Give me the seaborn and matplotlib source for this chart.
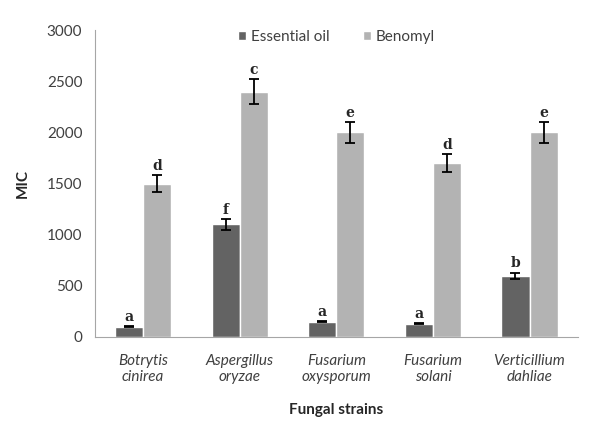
import numpy as np
import pandas as pd
import matplotlib
matplotlib.use('Agg')
import matplotlib.pyplot as plt
import seaborn as sns

# ==========================================
# Dữ liệu
# ==========================================
strains = ['Botrytis\ncinirea', 'Aspergillus\noryzae', 'Fusarium\noxysporum',
           'Fusarium\nsolani', 'Verticillium\ndahliae']
treatments = ['Essential oil', 'Benomyl']
oil_mic = [100, 1100, 150, 130, 600]
oil_err = [6, 50, 8, 6, 30]
oil_letters = ['a', 'f', 'a', 'a', 'b']
beno_mic = [1500, 2400, 2000, 1700, 2000]
beno_err = [80, 120, 100, 90, 100]
beno_letters = ['d', 'c', 'e', 'd', 'e']

df = pd.DataFrame({
    'Strain': strains * 2,
    'Treatment': [treatments[0]] * 5 + [treatments[1]] * 5,
    'MIC': oil_mic + beno_mic,
})

sns.set_style('white')
plt.rcParams['font.family'] = ['Lato', 'DejaVu Sans']

fig = plt.figure(figsize=(6.0, 4.37), dpi=100)
ax = fig.add_axes([0.158, 0.229, 0.805, 0.702])

sns.barplot(data=df, x='Strain', y='MIC', hue='Treatment',
            palette=['#636363', '#b3b3b3'], width=0.58,
            errorbar=None, ax=ax, saturation=1)

# Thanh sai số + chữ cái
errs = [oil_err, beno_err]
letters = [oil_letters, beno_letters]
vals = [oil_mic, beno_mic]
bar_groups = list(ax.containers)
for k, cont in enumerate(bar_groups):
    for i, bar in enumerate(cont):
        xc = bar.get_x() + bar.get_width() / 2
        ax.errorbar(xc, vals[k][i], yerr=errs[k][i], color='black',
                    capsize=3.5, elinewidth=1.3, capthick=1.3)
        ax.text(xc, vals[k][i] + errs[k][i] + 20, letters[k][i],
                ha='center', va='bottom', fontsize=10, fontweight='heavy',
                family='DejaVu Serif')

ax.set_ylim(0, 3000)
ax.set_yticks(range(0, 3001, 500))
ax.set_xlim(-0.5, 4.5)
for s in ['top', 'right']:
    ax.spines[s].set_visible(False)
for s in ['left', 'bottom']:
    ax.spines[s].set_color('#a6a6a6')
ax.tick_params(axis='y', length=6, direction='inout', color='#a6a6a6',
               labelsize=11, labelcolor='#404040', pad=6)
ax.tick_params(axis='x', length=0, labelsize=11, labelcolor='#404040', pad=12)
for lab in ax.get_xticklabels():
    lab.set_fontstyle('italic')

ax.set_xlabel('Fungal strains', fontsize=11, fontweight='bold', labelpad=14)
ax.set_ylabel('MIC', fontsize=11, fontweight='bold', labelpad=12)

ax.legend(loc='upper center', bbox_to_anchor=(0.5, 1.045), ncol=2, frameon=False,
          fontsize=11, handlelength=0.55, handleheight=0.55, columnspacing=2.2,
          handletextpad=0.3, labelcolor='#404040')

fig.savefig('out.png', dpi=100)
